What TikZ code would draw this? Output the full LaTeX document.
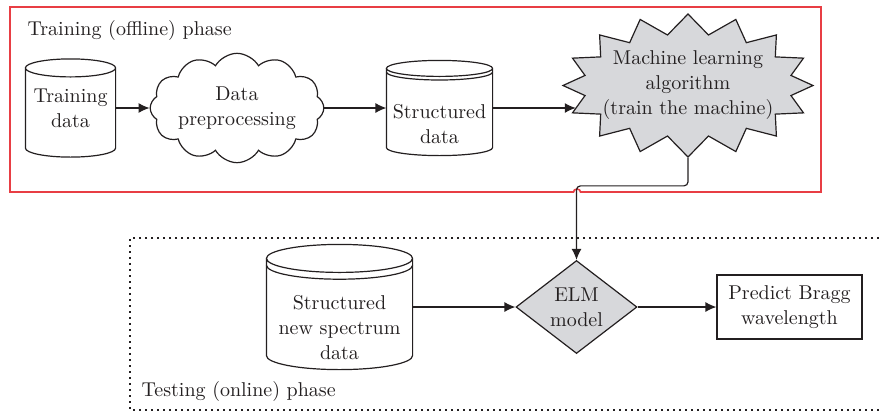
\documentclass[tikz,border=0pt]{standalone}
\usepackage{tikz}
\usetikzlibrary{calc}
\usetikzlibrary{shapes,arrows.meta,positioning}
\definecolor{ink}{RGB}{35,31,32}
\definecolor{boxred}{RGB}{232,62,68}
\definecolor{shade}{RGB}{215,216,219}
\tikzstyle{drum} = [rectangle, inner sep=0pt, align=center]
\tikzstyle{blob} = [cloud, draw, cloud puffs=12, cloud puff arc=120, aspect=1.9,
    inner xsep=0pt, inner ysep=-4pt, minimum width=86.5pt, minimum height=48pt, align=center]
\tikzstyle{burst} = [starburst, draw, fill=shade, starburst points=16,
    starburst point height=10pt, random starburst=0, inner xsep=-6pt, inner ysep=-3pt,
    minimum width=125pt, minimum height=71.5pt, align=center]
\tikzstyle{decision} = [diamond, draw, fill=shade, inner sep=0pt,
    minimum width=60.5pt, minimum height=46.5pt, align=center]
\tikzstyle{block} = [rectangle, draw, minimum width=72.5pt, minimum height=32pt, align=center]
\tikzstyle{line} = [draw, -{Latex[length=5.5pt,width=5pt]}]
\tikzstyle{title} = [anchor=west, inner sep=0pt]
% cylinder outline round a drum node: node, y radius of the rims
\newcommand{\drum}[2]{%
  \draw let \p1=(#1.north west), \p2=(#1.south east) in
    (\x1,\y1-#2) -- (\x1,\y2+#2)
    arc[start angle=180, end angle=360, x radius={(\x2-\x1)/2}, y radius=#2]
    -- (\x2,\y1-#2)
    arc[start angle=0, end angle=360, x radius={(\x2-\x1)/2}, y radius=#2];}
% second rim under the top: node, y radius, gap
\newcommand{\drumrim}[3]{%
  \draw let \p1=(#1.north west), \p2=(#1.south east) in
    (\x1,\y1-#2-#3)
    arc[start angle=180, end angle=360, x radius={(\x2-\x1)/2}, y radius=#2];}

\begin{document}
\begin{tikzpicture}[x=0.5pt, y=-0.5pt, line width=0.6pt, color=ink,
    font=\fontsize{10}{12.5}\selectfont]
\useasboundingbox (0,0) rectangle (879,414);
%Training:
\node[title](TR_t) at (27,30) {Training (offline) phase};
\node[drum, minimum width=44.5pt, minimum height=48.5pt](TR_data) at (70.5,108) {Training\\data};
\node[blob, right of = TR_data, node distance = 83.25pt](TR_prep) {Data\\preprocessing};
\node[drum, right of = TR_prep, node distance = 101.25pt, minimum width=52.5pt, minimum height=47pt,
    label={[align=center, yshift=-8pt]center:Structured\\data}](TR_struct) {};
\node[burst](TR_ml) at (688,85.5) {Machine learning\\algorithm\\(train the machine)};
\drum{TR_data}{4.5pt}
\drum{TR_struct}{4pt}
\drumrim{TR_struct}{4pt}{1.8pt}
\draw[line](TR_data) -- (TR_prep);
\draw[line](TR_prep) -- (TR_struct);
\draw[line](TR_struct) -- (TR_struct -| TR_ml.191);
\draw[boxred, line width=0.8pt] (10,7) -- (821,7) -- (821,192) -- (580.5,192)
    arc[start angle=0, end angle=-180, x radius=3.5, y radius=3] -- (10,192) -- cycle;
%Testing:
\node[title](TE_t) at (141,391) {Testing (online) phase};
\node[decision](TE_elm) at (576.5,307) {ELM\\model};
\node[drum, left of = TE_elm, node distance = 118.5pt, minimum width=72.5pt, minimum height=62pt,
    label={[align=center, yshift=-10.5pt]center:Structured\\new spectrum\\data}](TE_struct) {};
\node[block, right of = TE_elm, node distance = 106.5pt](TE_bragg) {Predict Bragg\\wavelength};
\drum{TE_struct}{7pt}
\drumrim{TE_struct}{7pt}{3.4pt}
\draw[line](TE_struct) -- (TE_elm);
\draw[line](TE_elm) -- (TE_bragg);
\draw[line, rounded corners=2pt](TR_ml.south) -- ++(0,28) -| (TE_elm.north);
\draw[dash pattern=on 1pt off 2pt] (879,238) -- (130,238) -- (130,410) -- (879,410);
\end{tikzpicture}
\end{document}
